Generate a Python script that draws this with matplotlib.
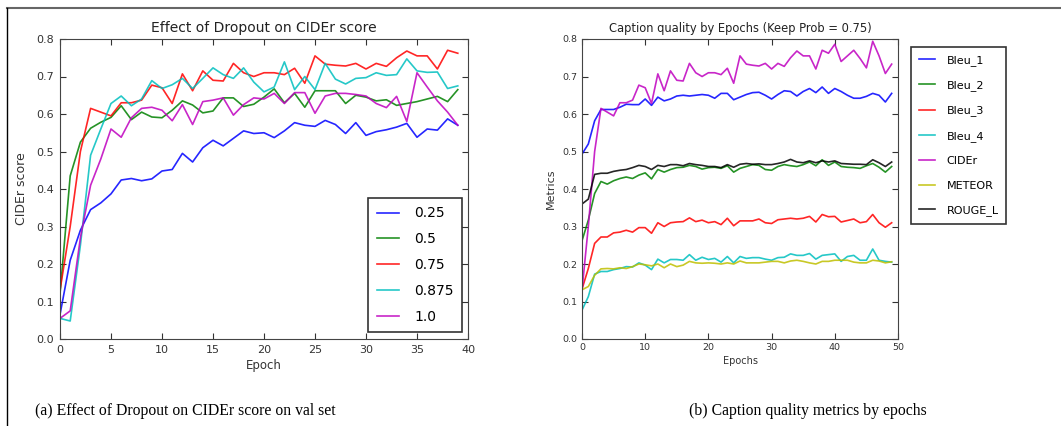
import matplotlib
matplotlib.use("Agg")
import matplotlib.pyplot as plt
from matplotlib.lines import Line2D

# Left panel: CIDEr score on val set for each keep probability
epochs_a = list(range(40))
keep_probs = ["0.25", "0.5", "0.75", "0.875", "1.0"]
cider_025 = [0.065, 0.21, 0.29, 0.345, 0.363, 0.387, 0.424, 0.428, 0.422, 0.427,
             0.448, 0.452, 0.495, 0.472, 0.51, 0.53, 0.515, 0.535, 0.555, 0.548,
             0.55, 0.537, 0.555, 0.577, 0.57, 0.567, 0.583, 0.572, 0.548, 0.577,
             0.543, 0.553, 0.558, 0.565, 0.575, 0.538, 0.56, 0.557, 0.587, 0.57]
cider_05 = [0.12, 0.435, 0.525, 0.562, 0.578, 0.591, 0.622, 0.585, 0.605, 0.592,
            0.59, 0.61, 0.635, 0.624, 0.603, 0.608, 0.643, 0.643, 0.62, 0.626,
            0.645, 0.667, 0.63, 0.655, 0.618, 0.662, 0.662, 0.662, 0.628, 0.65,
            0.645, 0.635, 0.638, 0.623, 0.628, 0.633, 0.64, 0.647, 0.633, 0.665]
cider_075 = [0.13, 0.30, 0.50, 0.615, 0.605, 0.595, 0.63, 0.63, 0.637, 0.677,
             0.67, 0.628, 0.707, 0.662, 0.715, 0.69, 0.688, 0.735, 0.71, 0.70,
             0.71, 0.71, 0.705, 0.722, 0.682, 0.755, 0.733, 0.73, 0.728, 0.735,
             0.72, 0.735, 0.727, 0.75, 0.768, 0.755, 0.755, 0.72, 0.77, 0.762]
cider_0875 = [0.055, 0.048, 0.25, 0.49, 0.56, 0.628, 0.648, 0.622, 0.64, 0.689,
              0.668, 0.678, 0.695, 0.668, 0.695, 0.723, 0.705, 0.695, 0.723, 0.685,
              0.659, 0.672, 0.739, 0.665, 0.70, 0.665, 0.735, 0.693, 0.68, 0.695,
              0.697, 0.71, 0.703, 0.705, 0.747, 0.715, 0.711, 0.712, 0.668, 0.675]
cider_10 = [0.055, 0.075, 0.27, 0.41, 0.48, 0.56, 0.538, 0.59, 0.615, 0.618,
            0.61, 0.582, 0.625, 0.572, 0.633, 0.637, 0.643, 0.597, 0.625, 0.643,
            0.64, 0.655, 0.628, 0.657, 0.657, 0.602, 0.648, 0.655, 0.655, 0.652,
            0.648, 0.628, 0.617, 0.647, 0.58, 0.71, 0.672, 0.635, 0.605, 0.57]
series_a = [cider_025, cider_05, cider_075, cider_0875, cider_10]

# Right panel: caption metrics by epoch (keep prob 0.75)
epochs_b = list(range(50))
metric_names = ["Bleu_1", "Bleu_2", "Bleu_3", "Bleu_4", "CIDEr", "METEOR", "ROUGE_L"]
bleu_1 = [0.493, 0.52, 0.582, 0.612, 0.612, 0.612, 0.618, 0.626, 0.625, 0.625,
          0.64, 0.623, 0.645, 0.635, 0.64, 0.648, 0.65, 0.648, 0.65, 0.652,
          0.65, 0.642, 0.655, 0.655, 0.638, 0.645, 0.652, 0.657, 0.658, 0.65,
          0.64, 0.652, 0.662, 0.66, 0.648, 0.66, 0.668, 0.657, 0.672, 0.655,
          0.668, 0.66, 0.65, 0.642, 0.642, 0.647, 0.655, 0.65, 0.632, 0.655]
bleu_2 = [0.262, 0.317, 0.388, 0.42, 0.413, 0.422, 0.428, 0.432, 0.428, 0.437,
          0.443, 0.427, 0.452, 0.445, 0.452, 0.457, 0.458, 0.463, 0.46, 0.453,
          0.457, 0.458, 0.455, 0.462, 0.445, 0.455, 0.46, 0.465, 0.463, 0.452,
          0.45, 0.46, 0.465, 0.462, 0.46, 0.465, 0.472, 0.462, 0.478, 0.463,
          0.472, 0.46, 0.458, 0.457, 0.455, 0.462, 0.468, 0.458, 0.445, 0.46]
bleu_3 = [0.133, 0.188, 0.255, 0.272, 0.272, 0.283, 0.285, 0.29, 0.285, 0.297,
          0.297, 0.282, 0.31, 0.30, 0.31, 0.312, 0.313, 0.323, 0.313, 0.317,
          0.31, 0.313, 0.305, 0.322, 0.302, 0.315, 0.315, 0.315, 0.32, 0.31,
          0.308, 0.318, 0.32, 0.322, 0.32, 0.322, 0.327, 0.312, 0.332, 0.326,
          0.327, 0.312, 0.316, 0.32, 0.31, 0.313, 0.332, 0.31, 0.298, 0.31]
bleu_4 = [0.077, 0.113, 0.173, 0.18, 0.18, 0.185, 0.188, 0.193, 0.192, 0.203,
          0.197, 0.185, 0.213, 0.203, 0.212, 0.212, 0.21, 0.225, 0.21, 0.218,
          0.212, 0.215, 0.205, 0.22, 0.203, 0.22, 0.215, 0.217, 0.217, 0.213,
          0.21, 0.217, 0.218, 0.227, 0.223, 0.223, 0.228, 0.213, 0.223, 0.225,
          0.227, 0.207, 0.22, 0.223, 0.21, 0.21, 0.24, 0.21, 0.207, 0.205]
cider = cider_075 + [0.786, 0.74, 0.755, 0.77, 0.748, 0.723, 0.794, 0.755, 0.708, 0.733]
meteor = [0.131, 0.14, 0.17, 0.187, 0.188, 0.187, 0.19, 0.188, 0.193, 0.20,
          0.198, 0.195, 0.20, 0.19, 0.20, 0.193, 0.197, 0.207, 0.203, 0.202,
          0.203, 0.202, 0.20, 0.203, 0.20, 0.208, 0.203, 0.203, 0.203, 0.205,
          0.207, 0.207, 0.203, 0.208, 0.21, 0.207, 0.203, 0.20, 0.207, 0.207,
          0.21, 0.21, 0.21, 0.205, 0.203, 0.203, 0.21, 0.208, 0.203, 0.206]
rouge_l = [0.36, 0.373, 0.439, 0.442, 0.442, 0.447, 0.45, 0.452, 0.457, 0.463,
           0.46, 0.452, 0.463, 0.46, 0.465, 0.465, 0.462, 0.468, 0.465, 0.463,
           0.46, 0.46, 0.457, 0.465, 0.458, 0.466, 0.468, 0.466, 0.467, 0.465,
           0.465, 0.468, 0.472, 0.479, 0.472, 0.47, 0.475, 0.47, 0.475, 0.472,
           0.475, 0.468, 0.467, 0.466, 0.466, 0.465, 0.478, 0.47, 0.46, 0.472]
series_b = [bleu_1, bleu_2, bleu_3, bleu_4, cider, meteor, rouge_l]

colors = ["b", "g", "r", "c", "m", "y", "k"]
W, H = 1061, 426


def style_axes(ax, size, pad):
    ax.tick_params(direction="in", top=True, right=True, length=4,
                   labelsize=size, pad=pad, colors="#333333")
    for sp in ax.spines.values():
        sp.set_color("#444444")


fig = plt.figure(figsize=(W / 100, H / 100), dpi=100)

# (a) dropout panel
ax1 = fig.add_axes([60 / W, 1 - 339 / H, 408 / W, 300 / H])
for vals, lab, col in zip(series_a, keep_probs, colors):
    ax1.plot(epochs_a, vals, color=col, lw=1.2, alpha=0.85, label=lab)
ax1.set_xlim(0, 40)
ax1.set_ylim(0, 0.8)
ax1.set_xticks(range(0, 41, 5))
ax1.set_yticks([i / 10 for i in range(9)])
style_axes(ax1, 8, 4.5)
ax1.set_title("Effect of Dropout on CIDEr score", fontsize=10, pad=5, color="#222222")
ax1.set_xlabel("Epoch", fontsize=8.5, color="#333333", labelpad=3)
ax1.set_ylabel("CIDEr score", fontsize=9, color="#333333", labelpad=6)
leg1 = ax1.legend(loc="lower right", bbox_to_anchor=(462 / W, 1 - 332 / H),
                  bbox_transform=fig.transFigure, borderaxespad=0, fontsize=10,
                  fancybox=False, labelspacing=0.85, handlelength=1.6,
                  handletextpad=1.1, borderpad=0.6)
leg1.get_frame().set_edgecolor("black")
leg1.get_frame().set_linewidth(1.2)

# (b) metrics panel
ax2 = fig.add_axes([582 / W, 1 - 339 / H, 316 / W, 300 / H])
for vals, lab, col in zip(series_b, metric_names, colors):
    ax2.plot(epochs_b, vals, color=col, lw=1.2, alpha=0.85, label=lab)
ax2.set_xlim(0, 50)
ax2.set_ylim(0, 0.8)
ax2.set_xticks(range(0, 51, 10))
ax2.set_yticks([i / 10 for i in range(9)])
style_axes(ax2, 6.8, 3)
ax2.set_title("Caption quality by Epochs (Keep Prob = 0.75)", fontsize=8.3, pad=5,
              color="#222222")
ax2.set_xlabel("Epochs", fontsize=7, color="#333333", labelpad=3)
ax2.set_ylabel("Metrics", fontsize=8, color="#333333", labelpad=5)
leg2 = ax2.legend(loc="upper left", bbox_to_anchor=(911 / W, 1 - 47 / H),
                  bbox_transform=fig.transFigure, borderaxespad=0, fontsize=8,
                  fancybox=False, labelspacing=1.3, handlelength=1.5,
                  handletextpad=1.0, borderpad=0.7)
leg2.get_frame().set_edgecolor("black")
leg2.get_frame().set_linewidth(1.2)

# captions and page frame lines
fig.text(185 / W, 1 - 411 / H, "(a) Effect of Dropout on CIDEr score on val set",
         ha="center", va="center", family="Liberation Serif", fontsize=11.3)
fig.text(808 / W, 1 - 411 / H, "(b) Caption quality metrics by epochs",
         ha="center", va="center", family="Liberation Serif", fontsize=11.3)
fig.add_artist(Line2D([7 / W, 1], [1 - 8 / H, 1 - 8 / H], color="#666666", lw=1.5))
fig.add_artist(Line2D([7 / W, 7 / W], [0, 1 - 8 / H], color="black", lw=1))

fig.savefig("out.png", dpi=100)
